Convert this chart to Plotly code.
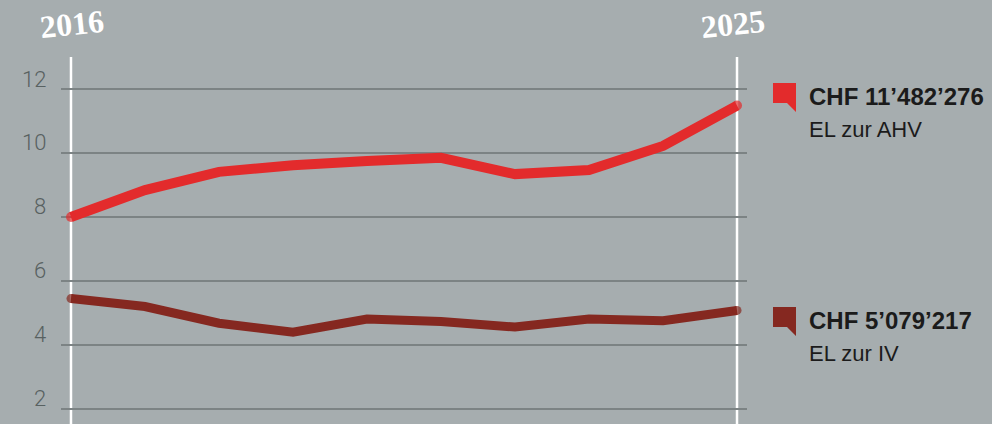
import plotly.graph_objects as go

# Ergänzungsleistungen, Mio. CHF
years = [2016, 2017, 2018, 2019, 2020, 2021, 2022, 2023, 2024, 2025]
el_ahv = [8.0, 8.84, 9.41, 9.62, 9.75, 9.85, 9.34, 9.47, 10.22, 11.482276]
el_iv = [5.45, 5.2, 4.68, 4.4, 4.81, 4.73, 4.56, 4.81, 4.76, 5.079217]

series_names = ["EL zur AHV", "EL zur IV"]
series_totals = ["CHF 11’482’276", "CHF 5’079’217"]
colors = ["#e32b2c", "#852820"]
y_ticks = [2, 4, 6, 8, 10, 12]

W, H = 992, 424
L, R, T, B = 61, 245, 57, 0
pw, ph = W - L - R, H - T - B


def px(x):
    return (x - L) / pw


def py(y):
    return (H - B - y) / ph


def flag(x, y):
    # small square with a tail at the bottom right, in pixels
    pts = [(x, y), (x + 23, y), (x + 23, y + 29), (x + 14, y + 20), (x, y + 20)]
    return "M " + " L ".join(f"{px(a):.5f},{py(b):.5f}" for a, b in pts) + " Z"


fig = go.Figure()
for vals, name, col, w in zip([el_ahv, el_iv], series_names, colors, [10, 9]):
    fig.add_trace(go.Scatter(
        x=years, y=vals, mode="lines+markers", name=name,
        line=dict(color=col, width=w),
        marker=dict(color=col, size=[w] + [0] * (len(years) - 2) + [w], line=dict(width=0)),
        hoverinfo="skip", showlegend=False,
    ))

shapes = []
for yr in (years[0], years[-1]):
    shapes.append(dict(type="line", xref="x", yref="paper", x0=yr, x1=yr, y0=0, y1=1,
                       line=dict(color="white", width=2.5), layer="between"))
shapes.append(dict(type="path", xref="paper", yref="paper", path=flag(773, 83),
                   fillcolor=colors[0], line=dict(width=0)))
shapes.append(dict(type="path", xref="paper", yref="paper", path=flag(773, 307),
                   fillcolor=colors[1], line=dict(width=0)))

annotations = []
# y tick labels sit just above their grid lines
for v in y_ticks:
    annotations.append(dict(x=0, y=v, xref="paper", yref="y", text=str(v), showarrow=False,
                            xanchor="right", yanchor="middle", xshift=-13, yshift=10,
                            font=dict(family="Roboto", size=22, color="#586161", weight=300)))
for yr, xc in ((years[0], 72), (years[-1], 733)):
    annotations.append(dict(x=px(xc), y=py(24), xref="paper", yref="paper", text=f"<b>{yr}</b>",
                            showarrow=False, textangle=-6, xanchor="center", yanchor="middle",
                            font=dict(family="Liberation Serif", size=32, color="white")))
for total, name, ytop in zip(series_totals, series_names, [96, 320]):
    annotations.append(dict(x=px(807), y=py(ytop), xref="paper", yref="paper", text=f"<b>{total}</b>",
                            showarrow=False, xanchor="left", yanchor="middle",
                            font=dict(family="Liberation Sans", size=24, color="#1b1b1b")))
    annotations.append(dict(x=px(807), y=py(ytop + 33), xref="paper", yref="paper", text=name,
                            showarrow=False, xanchor="left", yanchor="middle",
                            font=dict(family="Liberation Sans", size=22, color="#1b1b1b")))

fig.update_layout(
    width=W, height=H,
    margin=dict(l=L, r=R, t=T, b=B),
    paper_bgcolor="#a6adaf", plot_bgcolor="#a6adaf",
    shapes=shapes, annotations=annotations,
    xaxis=dict(range=[2015.865, 2025.135], showgrid=False, zeroline=False,
               showticklabels=False, ticks=""),
    yaxis=dict(range=[1.53, 13], tickvals=y_ticks, showgrid=True, gridcolor="#7c8384",
               gridwidth=1.5, zeroline=False, ticks="", showticklabels=False),
)

fig.write_html("out.html", config={"displayModeBar": False},
               post_script="document.body.style.margin='0';")
